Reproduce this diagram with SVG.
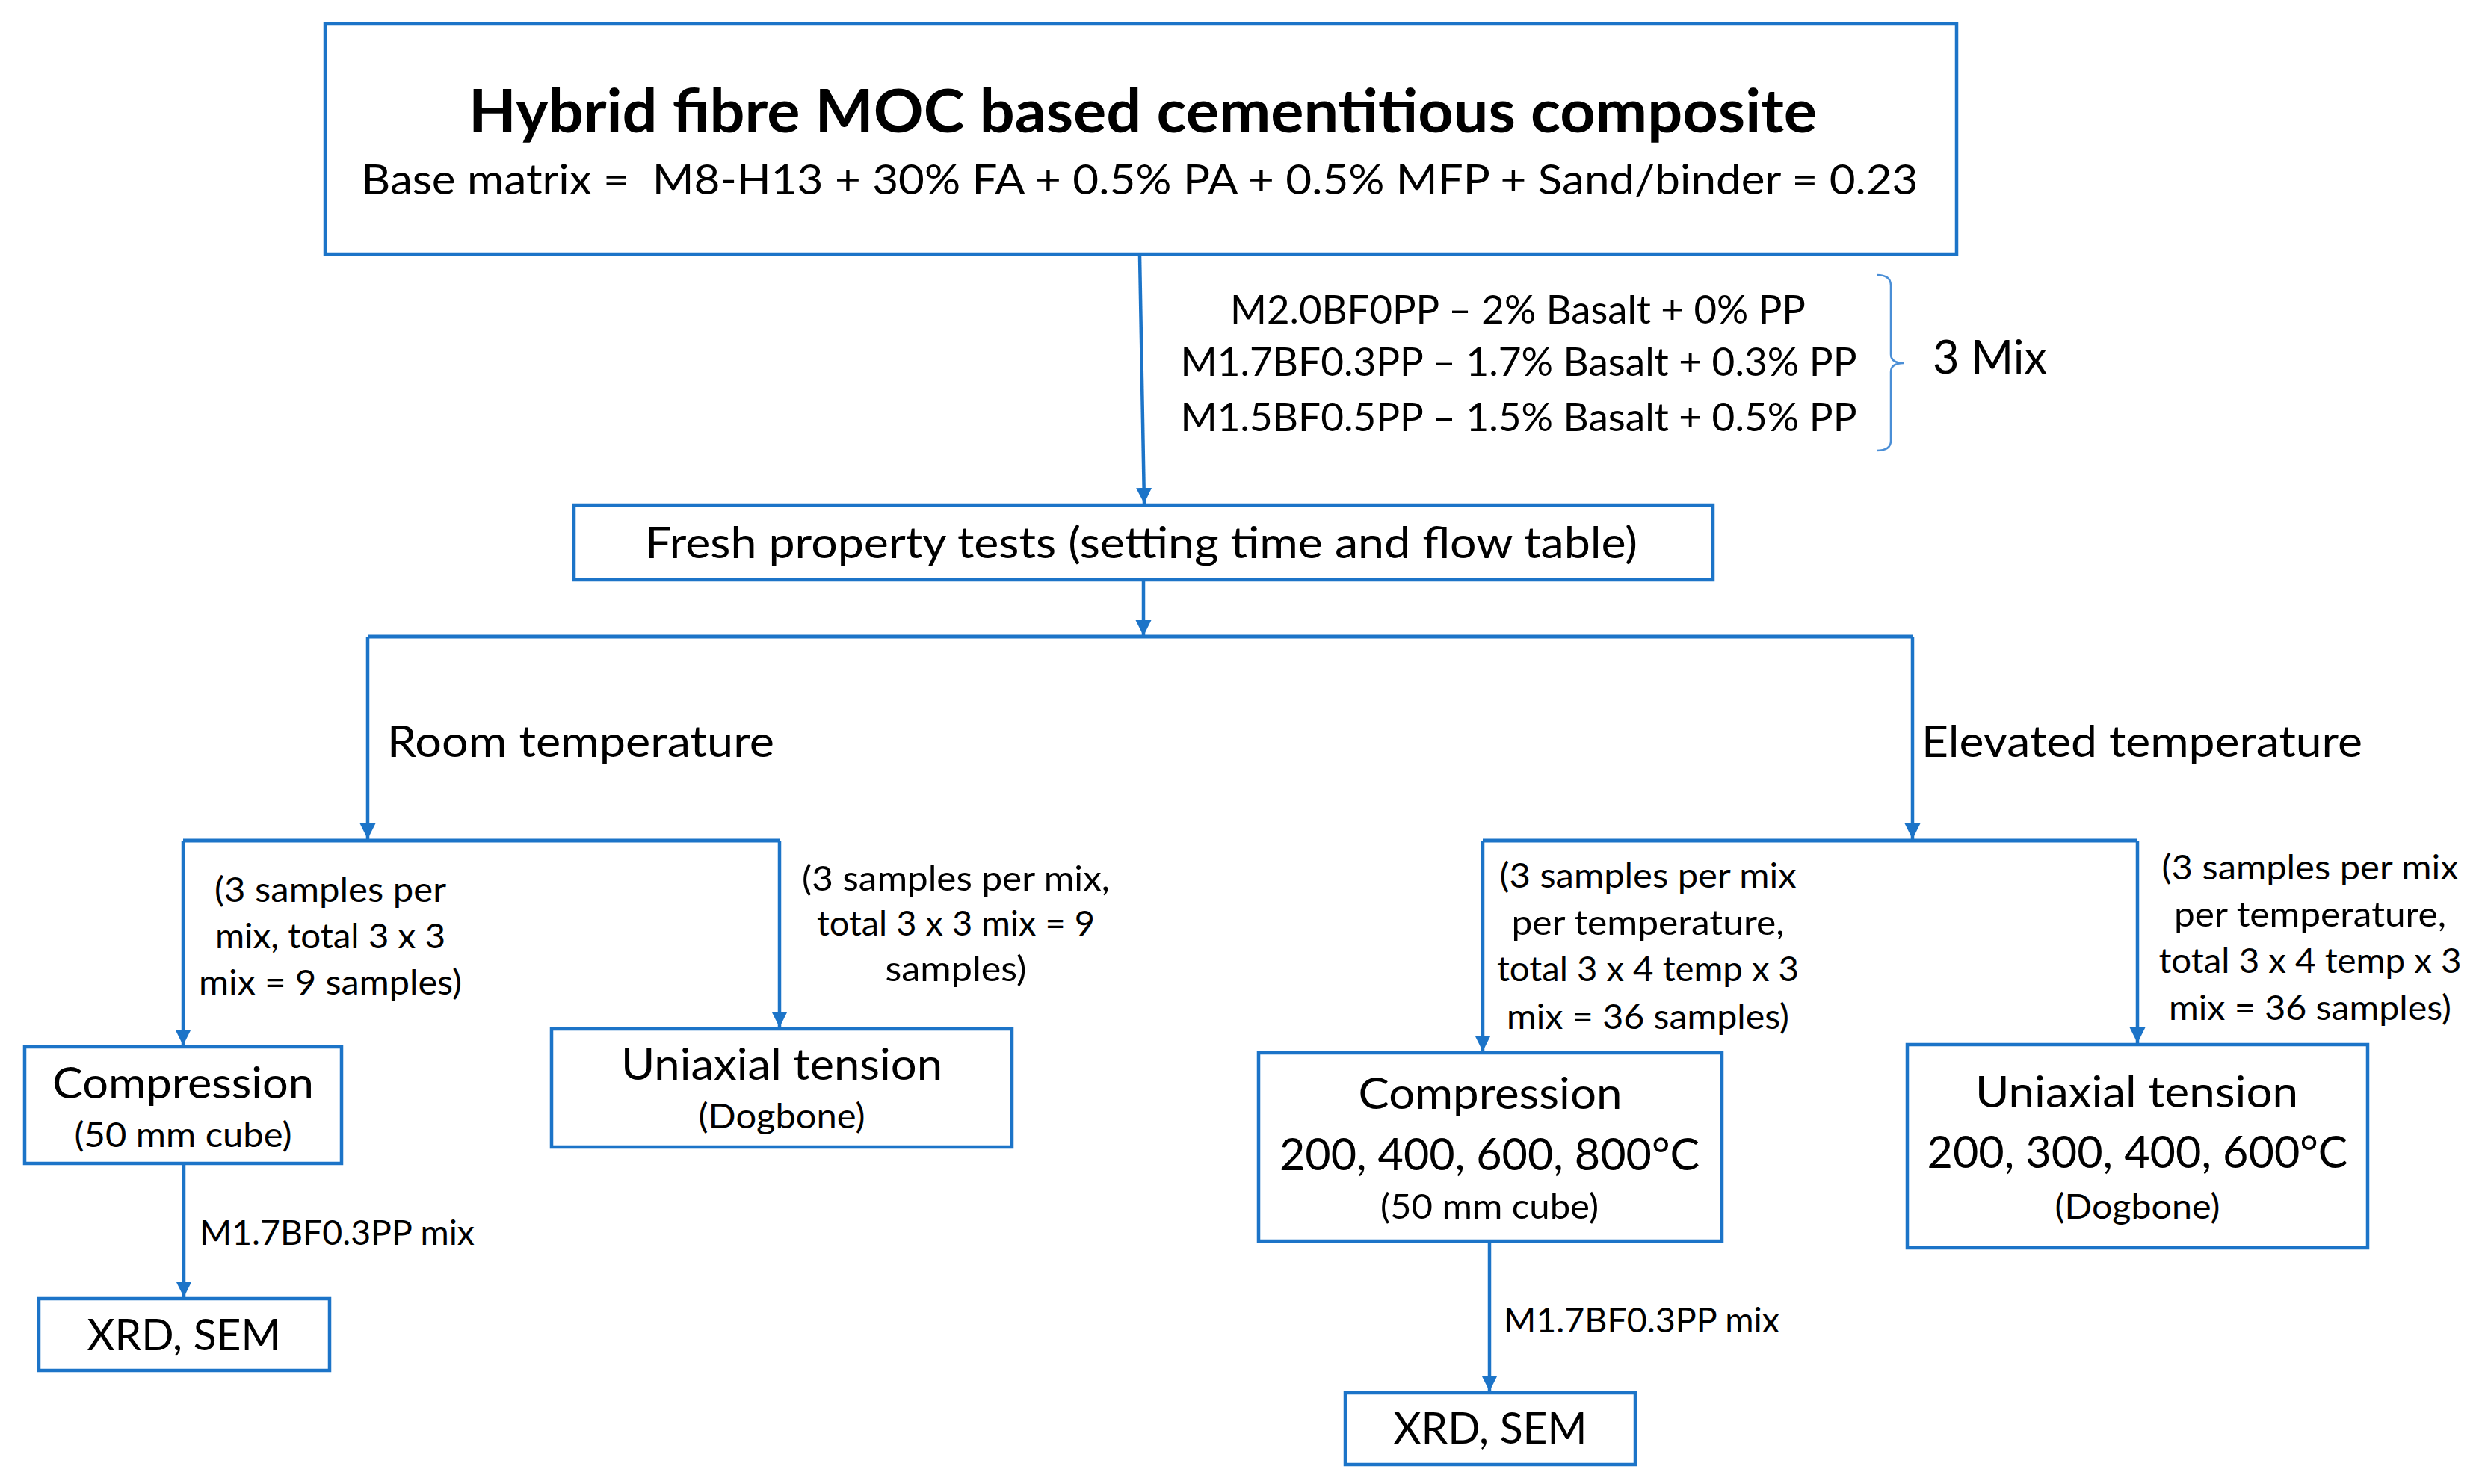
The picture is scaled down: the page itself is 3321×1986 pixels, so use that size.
<svg xmlns="http://www.w3.org/2000/svg" width="3321" height="1986" viewBox="0 0 3321 1986">
<style>
text{font-family:Lato,"Open Sans","Liberation Sans",sans-serif;fill:#000}
.box{fill:#fff;stroke:#1C74C8;stroke-width:4.5}
.ln{fill:none;stroke:#1C74C8;stroke-width:4.5}
.br{fill:none;stroke:#1C74C8;stroke-width:5}
.arr{marker-end:url(#ah)}
.m{text-anchor:middle}
.s{font-size:47px}
.l{font-size:59px}
</style>
<defs>
<marker id="ah" viewBox="0 0 10 10" refX="10" refY="5" markerWidth="21" markerHeight="22" markerUnits="userSpaceOnUse" orient="auto">
<path d="M0,0 L10,5 L0,10 z" fill="#1C74C8"/>
</marker>
</defs>
<rect width="3321" height="1986" fill="#fff"/>
<g id="connectors">
<line class="ln arr" x1="1525" y1="342" x2="1531" y2="674"/>
<line class="ln arr" x1="1530" y1="778" x2="1530" y2="851"/>
<line class="br" x1="492" y1="852" x2="2560" y2="852"/>
<line class="ln arr" x1="492" y1="852" x2="492" y2="1123"/>
<line class="ln arr" x1="2559" y1="852" x2="2559" y2="1123"/>
<line class="br" x1="245" y1="1125" x2="1043" y2="1125"/>
<line class="ln arr" x1="245" y1="1125" x2="245" y2="1399"/>
<line class="ln arr" x1="1043" y1="1125" x2="1043" y2="1375"/>
<line class="br" x1="1984" y1="1125" x2="2860" y2="1125"/>
<line class="ln arr" x1="1984" y1="1125" x2="1984" y2="1407"/>
<line class="ln arr" x1="2860" y1="1125" x2="2860" y2="1396"/>
<line class="ln arr" x1="246" y1="1559" x2="246" y2="1736"/>
<line class="ln arr" x1="1993" y1="1662" x2="1993" y2="1862"/>
<path d="M2511,368 Q2530,368 2530,382 L2530,474 Q2530,486 2547,486 Q2530,486 2530,498 L2530,590 Q2530,603 2511,603" fill="none" stroke="#4A8ED6" stroke-width="2.5"/>
<text class="s" x="267" y="1666" textLength="368" lengthAdjust="spacingAndGlyphs">M1.7BF0.3PP mix</text>
<text class="s" x="2012" y="1783" textLength="369" lengthAdjust="spacingAndGlyphs">M1.7BF0.3PP mix</text>
<text class="l" x="518" y="1013" textLength="518" lengthAdjust="spacingAndGlyphs">Room temperature</text>
<text class="l" x="2571" y="1013" textLength="590" lengthAdjust="spacingAndGlyphs">Elevated temperature</text>
<g class="m s">
<text x="442" y="1207" textLength="310" lengthAdjust="spacingAndGlyphs">(3 samples per</text>
<text x="442" y="1269" textLength="308" lengthAdjust="spacingAndGlyphs">mix, total 3 x 3</text>
<text x="442" y="1331" textLength="352" lengthAdjust="spacingAndGlyphs">mix = 9 samples)</text>
<text x="1279" y="1192" textLength="412" lengthAdjust="spacingAndGlyphs">(3 samples per mix,</text>
<text x="1279" y="1252" textLength="372" lengthAdjust="spacingAndGlyphs">total 3 x 3 mix = 9</text>
<text x="1279" y="1313" textLength="189" lengthAdjust="spacingAndGlyphs">samples)</text>
<text x="2205" y="1188" textLength="397" lengthAdjust="spacingAndGlyphs">(3 samples per mix</text>
<text x="2205" y="1251" textLength="365" lengthAdjust="spacingAndGlyphs">per temperature,</text>
<text x="2205" y="1313" textLength="404" lengthAdjust="spacingAndGlyphs">total 3 x 4 temp x 3</text>
<text x="2205" y="1377" textLength="378" lengthAdjust="spacingAndGlyphs">mix = 36 samples)</text>
<text x="3091" y="1177" textLength="397" lengthAdjust="spacingAndGlyphs">(3 samples per mix</text>
<text x="3091" y="1240" textLength="364" lengthAdjust="spacingAndGlyphs">per temperature,</text>
<text x="3091" y="1302" textLength="405" lengthAdjust="spacingAndGlyphs">total 3 x 4 temp x 3</text>
<text x="3091" y="1365" textLength="378" lengthAdjust="spacingAndGlyphs">mix = 36 samples)</text>
</g>
</g>
<g id="node-main">
<rect class="box" x="435" y="32" width="2183" height="308"/>
<text class="m" x="1529" y="177" font-size="80" font-weight="bold" textLength="1804" lengthAdjust="spacingAndGlyphs">Hybrid fibre MOC based cementitious composite</text>
<text class="m" x="1525" y="260" font-size="57" xml:space="preserve" textLength="2083" lengthAdjust="spacingAndGlyphs">Base matrix =  M8-H13 + 30% FA + 0.5% PA + 0.5% MFP + Sand/binder = 0.23</text>
</g>
<g id="node-mixes">
<text class="m" x="2031" y="433" font-size="53" textLength="770" lengthAdjust="spacingAndGlyphs">M2.0BF0PP – 2% Basalt + 0% PP</text>
<text class="m" x="2032" y="503" font-size="53" textLength="905" lengthAdjust="spacingAndGlyphs">M1.7BF0.3PP – 1.7% Basalt + 0.3% PP</text>
<text class="m" x="2032" y="577" font-size="53" textLength="905" lengthAdjust="spacingAndGlyphs">M1.5BF0.5PP – 1.5% Basalt + 0.5% PP</text>
<text x="2586" y="500" font-size="61" textLength="153" lengthAdjust="spacingAndGlyphs">3 Mix</text>
</g>
<g id="node-fresh">
<rect class="box" x="768" y="676" width="1524" height="100"/>
<text class="m l" x="1527" y="747" textLength="1328" lengthAdjust="spacingAndGlyphs">Fresh property tests (setting time and flow table)</text>
</g>
<g id="node-comp-room">
<rect class="box" x="33" y="1401" width="424" height="156"/>
<text class="m l" x="245" y="1470" textLength="350" lengthAdjust="spacingAndGlyphs">Compression</text>
<text class="m s" x="245" y="1535" textLength="291" lengthAdjust="spacingAndGlyphs">(50 mm cube)</text>
</g>
<g id="node-tension-room">
<rect class="box" x="738" y="1377" width="616" height="158"/>
<text class="m l" x="1046" y="1445" textLength="430" lengthAdjust="spacingAndGlyphs">Uniaxial tension</text>
<text class="m s" x="1046" y="1510" textLength="223" lengthAdjust="spacingAndGlyphs">(Dogbone)</text>
</g>
<g id="node-xrd-room">
<rect class="box" x="52" y="1738" width="389" height="96"/>
<text class="m l" x="246" y="1807" textLength="259" lengthAdjust="spacingAndGlyphs">XRD, SEM</text>
</g>
<g id="node-comp-elev">
<rect class="box" x="1684" y="1409" width="620" height="252"/>
<text class="m l" x="1994" y="1484" textLength="353" lengthAdjust="spacingAndGlyphs">Compression</text>
<text class="m" x="1993" y="1566" font-size="60" textLength="562" lengthAdjust="spacingAndGlyphs">200, 400, 600, 800°C</text>
<text class="m s" x="1993" y="1631" textLength="292" lengthAdjust="spacingAndGlyphs">(50 mm cube)</text>
</g>
<g id="node-tension-elev">
<rect class="box" x="2552" y="1398" width="616" height="272"/>
<text class="m l" x="2859" y="1482" textLength="432" lengthAdjust="spacingAndGlyphs">Uniaxial tension</text>
<text class="m" x="2860" y="1563" font-size="60" textLength="563" lengthAdjust="spacingAndGlyphs">200, 300, 400, 600°C</text>
<text class="m s" x="2860" y="1631" textLength="221" lengthAdjust="spacingAndGlyphs">(Dogbone)</text>
</g>
<g id="node-xrd-elev">
<rect class="box" x="1800" y="1864" width="388" height="96"/>
<text class="m l" x="1994" y="1932" textLength="259" lengthAdjust="spacingAndGlyphs">XRD, SEM</text>
</g>
</svg>
